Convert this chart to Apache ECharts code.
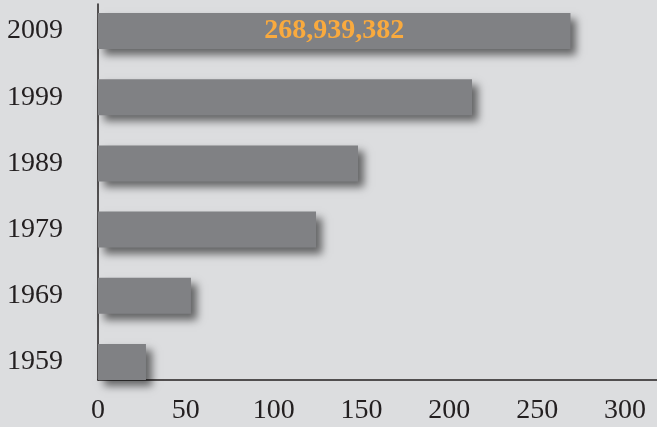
<!DOCTYPE html>
<html>
<head>
<meta charset="utf-8">
<script src="https://cdn.jsdelivr.net/npm/echarts@6/dist/echarts.min.js"></script>
<style>
  html, body { margin:0; padding:0; background:#dcdddf; }
  #chart { width:657px; height:427px; }
</style>
</head>
<body>
<div id="chart"></div>
<script>
// 年份 (bottom to top) and values in millions
let years = ['1959', '1969', '1979', '1989', '1999', '2009'];
let values = [27.3, 52.9, 124.1, 148.0, 212.9, 268.94];
let topLabel = '268,939,382';
let xTicks = [0, 50, 100, 150, 200, 250, 300];

let fontFam = '"Liberation Serif", "DejaVu Serif", serif';
let xMax = 318.2;

let myChart = echarts.init(document.getElementById('chart'), null, {renderer: 'canvas'});

let barData = values.map((v, i) => {
    if (i === values.length - 1) {
        return {
            value: v,
            label: {
                show: true,
                position: 'inside',
                formatter: topLabel,
                color: '#f9aa3e',
                fontFamily: fontFam,
                fontWeight: 'bold',
                fontSize: 28
            }
        };
    }
    return v;
});

let option = {
    backgroundColor: '#dcdddf',
    animation: false,
    grid: [
        {left: 98, right: 0, top: -2.1, height: 397.2, outerBoundsMode: 'none'},   // bars
        {left: 98, right: 0, top: 4, height: 376, outerBoundsMode: 'none'}          // axis lines
    ],
    xAxis: [
        {
            gridIndex: 0, type: 'value', min: 0, max: xMax, interval: 50,
            show: false
        },
        {
            gridIndex: 1, type: 'value', min: 0, max: xMax, interval: 50,
            axisLine: {show: true, lineStyle: {color: '#231f20', width: 1.5}},
            axisTick: {show: false},
            splitLine: {show: false},
            axisLabel: {
                showMaxLabel: false,
                margin: 17,
                color: '#231f20',
                fontFamily: fontFam,
                fontSize: 28,
                formatter: (v) => xTicks.indexOf(v) >= 0 ? String(v) : ''
            }
        }
    ],
    yAxis: [
        {
            gridIndex: 0, type: 'category', data: years,
            axisLine: {show: false},
            axisTick: {show: false},
            axisLabel: {
                margin: 35,
                color: '#231f20',
                fontFamily: fontFam,
                fontSize: 28
            }
        },
        {
            gridIndex: 1, type: 'value', min: 0, max: 1,
            axisLine: {show: true, lineStyle: {color: '#231f20', width: 1.5}},
            axisTick: {show: false},
            axisLabel: {show: false},
            splitLine: {show: false}
        }
    ],
    series: [{
        type: 'bar',
        xAxisIndex: 0,
        yAxisIndex: 0,
        barWidth: 36,
        z: 3,
        data: barData,
        itemStyle: {
            color: '#808184',
            shadowColor: 'rgba(0,0,0,0.55)',
            shadowBlur: 8,
            shadowOffsetX: 6,
            shadowOffsetY: 6
        }
    }]
};
myChart.setOption(option);
</script>
</body>
</html>
